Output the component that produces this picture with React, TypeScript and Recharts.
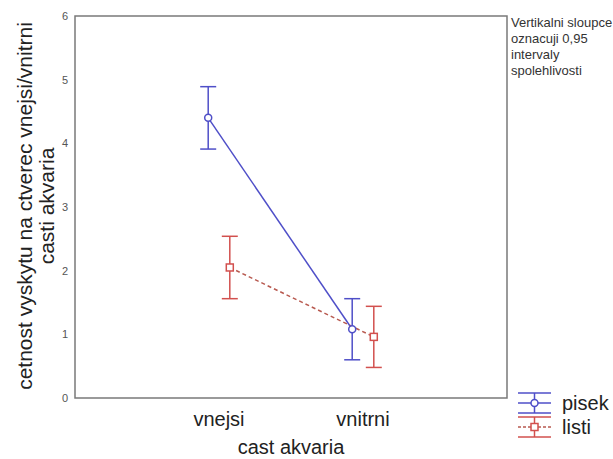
import React from 'react';
import {
  ComposedChart,
  Line,
  XAxis,
  YAxis,
  ErrorBar,
  ReferenceArea,
  Legend,
  Label,
} from 'recharts';

const categories = ['vnejsi', 'vnitrni'];
const pisekMeans = [4.4, 1.08];
const pisekCI = [0.49, 0.48];
const listiMeans = [2.05, 0.96];
const listiCI = [0.49, 0.48];
const yTicks = [0, 1, 2, 3, 4, 5, 6];
const seriesNames = ['pisek', 'listi'];
const yAxisTitle = ['cetnost vyskytu na ctverec vnejsi/vnitrni', 'casti akvaria'];
const xAxisTitle = 'cast akvaria';
const noteLines = ['Vertikalni sloupce', 'oznacuji 0,95', 'intervaly', 'spolehlivosti'];

const DODGE = 0.075;
const BLUE = '#4f4fc8';
const RED = '#d2504e';
const RED_LINE = '#b85a50';
const FRAME = '#7a7a7a';
const FONT = '"Liberation Sans", Arial, sans-serif';
const LEGEND_W = 96;

const pisekData = categories.map((c, i) => ({
  x: i + 1 - DODGE,
  cat: c,
  mean: pisekMeans[i],
  ci: pisekCI[i],
}));
const listiData = categories.map((c, i) => ({
  x: i + 1 + DODGE,
  cat: c,
  mean: listiMeans[i],
  ci: listiCI[i],
}));

const SquareDot = (props: any) => {
  const { cx, cy } = props;
  if (cx == null || cy == null) return null;
  return (
    <rect x={cx - 3.5} y={cy - 3.5} width={7} height={7} fill="#fff" stroke={RED} strokeWidth={1.5} />
  );
};

const CircleDot = (props: any) => {
  const { cx, cy } = props;
  if (cx == null || cy == null) return null;
  return <circle cx={cx} cy={cy} r={3.5} fill="#fff" stroke={BLUE} strokeWidth={1.5} />;
};

const LegendIcon = ({ color, lineColor, dashed, square }: any) => (
  <svg width={35} height={22} style={{ display: 'block' }}>
    <line x1={1} y1={1} x2={34} y2={1} stroke={color} strokeWidth={1.5} />
    <line x1={1} y1={21} x2={34} y2={21} stroke={color} strokeWidth={1.5} />
    <line x1={17.5} y1={1} x2={17.5} y2={21} stroke={color} strokeWidth={1.5} />
    <line
      x1={1}
      y1={11}
      x2={34}
      y2={11}
      stroke={lineColor}
      strokeWidth={1.5}
      strokeDasharray={dashed ? '3 2' : undefined}
    />
    {square ? (
      <rect x={14} y={7.5} width={7} height={7} fill="#fff" stroke={color} strokeWidth={1.5} />
    ) : (
      <circle cx={17.5} cy={11} r={3.5} fill="#fff" stroke={color} strokeWidth={1.5} />
    )}
  </svg>
);

const renderLegend = () => (
  <div style={{ fontFamily: FONT, fontSize: 20, color: '#222' }}>
    {seriesNames.map((name, i) => (
      <div key={name} style={{ display: 'flex', alignItems: 'center', height: 24 }}>
        <LegendIcon
          color={i === 0 ? BLUE : RED}
          lineColor={i === 0 ? BLUE : RED_LINE}
          dashed={i === 1}
          square={i === 1}
        />
        <span style={{ marginLeft: 10, lineHeight: '24px' }}>{name}</span>
      </div>
    ))}
  </div>
);

const YTitle = () => (
  <g>
    <text
      x={32}
      y={206}
      transform="rotate(-90, 32, 206)"
      textAnchor="middle"
      fontSize={21}
      fontFamily={FONT}
      fill="#222"
    >
      {yAxisTitle[0]}
    </text>
    <text
      x={54}
      y={206}
      transform="rotate(-90, 54, 206)"
      textAnchor="middle"
      fontSize={21}
      fontFamily={FONT}
      fill="#222"
    >
      {yAxisTitle[1]}
    </text>
  </g>
);

export default function App() {
  return (
    <div style={{ position: 'absolute', left: 0, top: 0, width: 613, height: 459, background: '#fff', fontFamily: FONT }}>
      <ComposedChart width={613} height={459} margin={{ top: 16, right: 106 - LEGEND_W, bottom: 0, left: 0 }}>
        <XAxis
          type="number"
          dataKey="x"
          domain={[0, 3]}
          ticks={[1, 2]}
          tickFormatter={(v: number) => categories[Math.round(v) - 1] ?? ''}
          height={61}
          axisLine={false}
          tickLine={false}
          tickSize={0}
          tickMargin={14}
          tick={{ fontSize: 20, fill: '#222', fontFamily: FONT }}
          allowDataOverflow
        >
          <Label value={xAxisTitle} position="insideBottom" offset={5} fontSize={20} fill="#222" fontFamily={FONT} />
        </XAxis>
        <YAxis
          type="number"
          domain={[0, 6]}
          ticks={yTicks}
          width={75}
          axisLine={false}
          tickLine={false}
          tickSize={0}
          tickMargin={7}
          tick={{ fontSize: 11, fill: '#555', fontFamily: FONT }}
          allowDataOverflow
        >
          <Label content={() => <YTitle />} />
        </YAxis>
        <ReferenceArea x1={0} x2={3} y1={0} y2={6} fill="none" stroke={FRAME} strokeWidth={1.5} />
        <Line
          data={pisekData}
          dataKey="mean"
          name={seriesNames[0]}
          stroke={BLUE}
          strokeWidth={1.5}
          dot={<CircleDot />}
          activeDot={false}
          isAnimationActive={false}
        >
          <ErrorBar dataKey="ci" width={8} stroke={BLUE} strokeWidth={1.5} direction="y" />
        </Line>
        <Line
          data={listiData}
          dataKey="mean"
          name={seriesNames[1]}
          stroke={RED_LINE}
          strokeWidth={1.5}
          strokeDasharray="4 3"
          dot={<SquareDot />}
          activeDot={false}
          isAnimationActive={false}
        >
          <ErrorBar dataKey="ci" width={8} stroke={RED} strokeWidth={1.5} direction="y" />
        </Line>
        <Legend
          layout="vertical"
          verticalAlign="bottom"
          align="right"
          content={renderLegend}
          wrapperStyle={{ left: 517, top: 391, right: 'auto', bottom: 'auto', width: LEGEND_W }}
        />
      </ComposedChart>
      <div
        style={{
          position: 'absolute',
          left: 511,
          top: 15,
          fontSize: 13,
          lineHeight: '16px',
          color: '#333',
          fontFamily: FONT,
          whiteSpace: 'nowrap',
        }}
      >
        {noteLines.map((l) => (
          <div key={l}>{l}</div>
        ))}
      </div>
    </div>
  );
}
